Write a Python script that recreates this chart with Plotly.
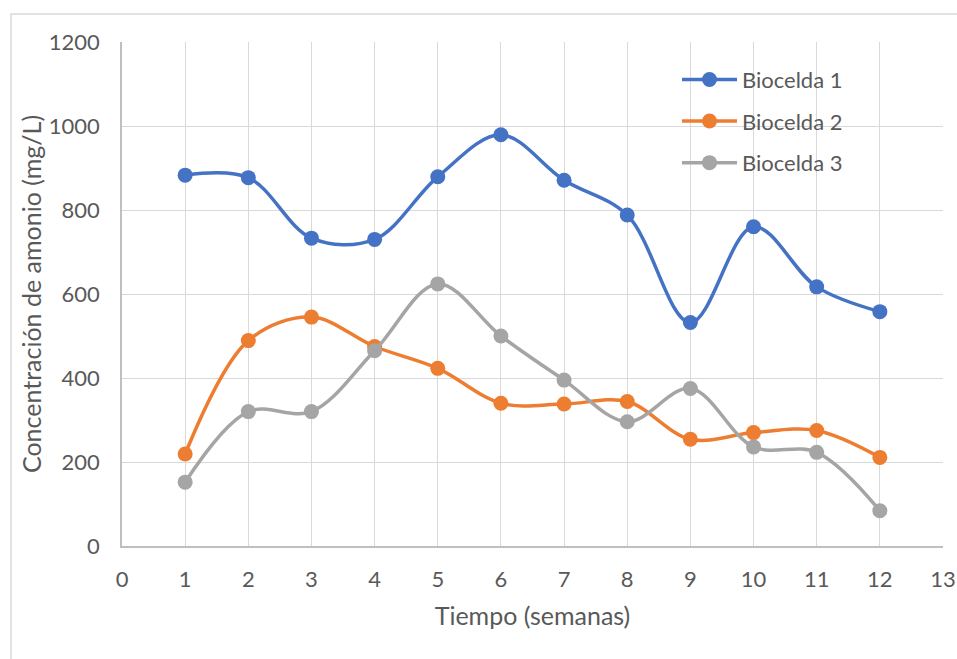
import plotly.graph_objects as go

weeks = [1, 2, 3, 4, 5, 6, 7, 8, 9, 10, 11, 12]
biocelda1 = [883, 877, 733, 730, 879, 979, 871, 788, 532, 760, 617, 558]
biocelda2 = [219, 489, 545, 475, 423, 340, 338, 344, 254, 270, 275, 211]
biocelda3 = [152, 320, 320, 465, 624, 500, 395, 296, 375, 236, 223, 84]
series_names = ["Biocelda 1", "Biocelda 2", "Biocelda 3"]
colors = ["#4472C4", "#ED7D31", "#A5A5A5"]

FONT = "Lato"
TXT = "#595959"

fig = go.Figure()
for name, vals, col in zip(series_names, [biocelda1, biocelda2, biocelda3], colors):
    fig.add_trace(go.Scatter(
        x=weeks, y=vals, name=name, legendgroup=name,
        mode="lines+markers",
        line=dict(color=col, width=3.5, shape="spline", smoothing=1.0),
        marker=dict(color=col, size=15),
    ))

fig.update_layout(
    width=957, height=659,
    margin=dict(l=122, r=14, t=42, b=113, autoexpand=False),
    paper_bgcolor="white", plot_bgcolor="white",
    font=dict(family=FONT, size=22, color=TXT),
    showlegend=True,
    legend=dict(
        x=0.676, y=0.967, xanchor="left", yanchor="top",
        bgcolor="rgba(0,0,0,0)", borderwidth=0,
        font=dict(family=FONT, size=22, color=TXT),
        itemwidth=55, traceorder="grouped", tracegroupgap=10,
    ),
    xaxis=dict(
        range=[0, 13], tickmode="linear", dtick=1, tick0=0,
        showgrid=True, gridcolor="#D9D9D9", gridwidth=1.3,
        showline=True, linecolor="#BFBFBF", linewidth=1.5,
        zeroline=False, ticks="", ticklabelstandoff=13, automargin=False,
        tickfont=dict(family=FONT, size=22, color=TXT),
        title=dict(text="Tiempo (semanas)", standoff=16,
                   font=dict(family=FONT, size=25, color=TXT)),
    ),
    yaxis=dict(
        range=[0, 1200], tickmode="linear", dtick=200, tick0=0,
        showgrid=True, gridcolor="#D9D9D9", gridwidth=1.3,
        showline=True, linecolor="#BFBFBF", linewidth=1.5,
        zeroline=False, ticks="", ticklabelstandoff=16, automargin=False,
        tickfont=dict(family=FONT, size=22, color=TXT),
        title=dict(text="Concentración de amonio (mg/L)", standoff=0,
                   font=dict(family=FONT, size=25, color=TXT)),
    ),
    shapes=[dict(
        type="rect", xref="paper", yref="paper",
        x0=-0.1352, x1=1.03, y0=-0.25, y1=1.0556,
        line=dict(color="#D9D9D9", width=1.5), fillcolor="rgba(0,0,0,0)",
        layer="below",
    )],
)

fig.write_html("out.html")
